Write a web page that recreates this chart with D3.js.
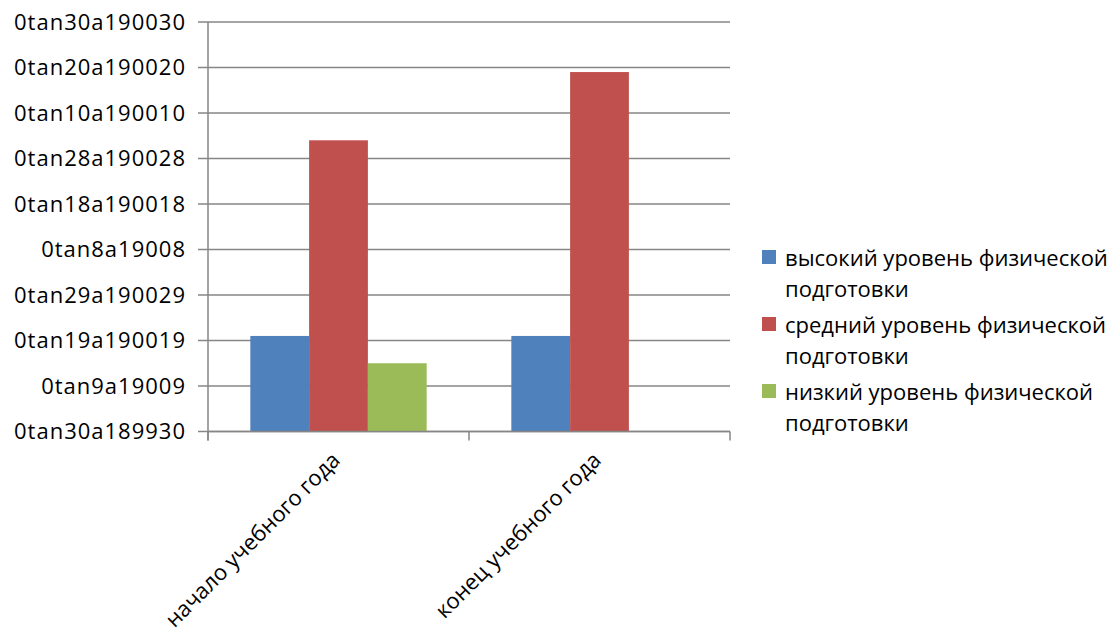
<!DOCTYPE html>
<html>
<head>
<meta charset="utf-8">
<script src="https://cdn.jsdelivr.net/npm/d3@7"></script>
<style>
  body { margin: 0; background: #fff; }
  text { font-family: "Open Sans", Lato, sans-serif; fill: #000; }
</style>
</head>
<body>
<div id="vis"></div>
<script>
// chart data
var categories = ["начало учебного года", "конец учебного года"];
var seriesNames = ["высокий уровень физической подготовки",
                   "средний уровень физической подготовки",
                   "низкий уровень физической подготовки"];
var seriesColors = ["#4f81bd", "#c0504d", "#9bbb59"];
var highValues = [21, 21];
var midValues = [64, 79];
var lowValues = [15, 0];
var tickValues = [0, 10, 20, 30, 40, 50, 60, 70, 80, 90];
var tickLabels = ["0tan30a189930", "0tan9a19009", "0tan19a190019", "0tan29a190029",
                  "0tan8a19008", "0tan18a190018", "0tan28a190028", "0tan10a190010",
                  "0tan20a190020", "0tan30a190030"];

var width = 1119;
var height = 638;
var plotLeft = 208, plotRight = 730, plotTop = 22, plotBottom = 431.5;
var fontSize = "22px";

var svg = d3.select("#vis")
            .append("svg")
            .attr("width", width)
            .attr("height", height);

var y = d3.scaleLinear()
        .domain([0, 90])
        .range([plotBottom, plotTop]);

var x0 = d3.scaleBand()
        .domain(categories)
        .range([plotLeft, plotRight])
        .paddingInner(0)
        .paddingOuter(0);

var x1 = d3.scaleBand()
        .domain(d3.range(seriesNames.length))
        .range([0, x0.bandwidth()])
        .paddingOuter(0.72)
        .paddingInner(0);

// gridlines
svg.append("g")
        .selectAll("line")
        .data(tickValues)
        .join("line")
        .attr("x1", plotLeft - 10)
        .attr("x2", plotRight)
        .attr("y1", d => y(d))
        .attr("y2", d => y(d))
        .attr("stroke", "#868686")
        .attr("stroke-width", 1.5);

// y axis line
svg.append("line")
        .attr("x1", plotLeft).attr("x2", plotLeft)
        .attr("y1", plotTop).attr("y2", plotBottom + 9)
        .attr("stroke", "#868686")
        .attr("stroke-width", 1.5);

// y labels
svg.append("g")
        .selectAll("text")
        .data(tickValues)
        .join("text")
        .attr("x", 186)
        .attr("y", d => y(d))
        .attr("dy", "0.35em")
        .attr("text-anchor", "end")
        .style("font-size", fontSize)
        .style("letter-spacing", "1px")
        .text((d, i) => tickLabels[i]);

// bars
var series = [highValues, midValues, lowValues];
var rows = [];
categories.forEach(function(c, ci) {
  series.forEach(function(s, si) {
    rows.push({cat: c, s: si, v: s[ci]});
  });
});

svg.append("g")
        .selectAll("rect")
        .data(rows.filter(d => d.v > 0))
        .join("rect")
        .attr("x", d => x0(d.cat) + x1(d.s))
        .attr("width", x1.bandwidth())
        .attr("y", d => y(d.v))
        .attr("height", d => y(0) - y(d.v))
        .attr("fill", d => seriesColors[d.s]);

// x axis
svg.append("line")
        .attr("x1", plotLeft).attr("x2", plotRight)
        .attr("y1", plotBottom).attr("y2", plotBottom)
        .attr("stroke", "#868686")
        .attr("stroke-width", 1.5);

var xTicks = categories.map(c => x0(c)).concat([plotRight]);
svg.append("g")
        .selectAll("line")
        .data(xTicks)
        .join("line")
        .attr("x1", d => d).attr("x2", d => d)
        .attr("y1", plotBottom).attr("y2", plotBottom + 9)
        .attr("stroke", "#868686")
        .attr("stroke-width", 1.5);

svg.append("g")
        .selectAll("text")
        .data(categories)
        .join("text")
        .attr("transform", d => `translate(${x0(d) + x0.bandwidth() / 2 + 3}, ${plotBottom + 30}) rotate(-45)`)
        .attr("text-anchor", "end")
        .style("font-size", fontSize)
        .text(d => d);

// legend
var legend = svg.append("g");
seriesNames.forEach(function(name, i) {
  var ly = 250 + i * 67;
  legend.append("rect")
        .attr("x", 762)
        .attr("y", ly)
        .attr("width", 14)
        .attr("height", 14)
        .attr("fill", seriesColors[i]);
  var words = name.split(" ");
  var t = legend.append("text")
        .attr("x", 785)
        .attr("y", ly + 16)
        .style("font-size", fontSize);
  t.append("tspan").attr("x", 785).text(words.slice(0, 3).join(" "));
  t.append("tspan").attr("x", 785).attr("dy", 31).text(words.slice(3).join(" "));
});
</script>
</body>
</html>
